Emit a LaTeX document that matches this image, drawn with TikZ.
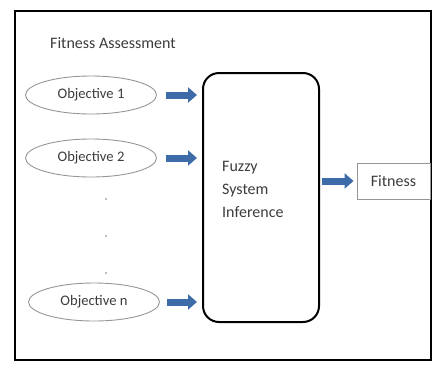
\documentclass[tikz,border=0pt]{standalone}
\usepackage{fontspec}
\setmainfont{Carlito}
\usetikzlibrary{shapes.geometric,arrows.meta}
\definecolor{arrowblue}{RGB}{62,108,168}
\definecolor{txt}{RGB}{60,60,60}
\definecolor{edgegray}{RGB}{150,150,150}
\tikzset{
  objective/.style={ellipse, draw=edgegray, line width=0.9pt, minimum width=131pt, minimum height=38pt, inner sep=0pt, text=txt, font=\fontsize{14.6}{17}\selectfont},
  blockarrow/.style={draw=arrowblue, line width=7pt, -{Triangle[length=9pt,width=15pt]}},
  dotmark/.style={circle, fill=gray!70, inner sep=0pt, minimum size=2.2pt},
  lbl/.style={text=txt, font=\fontsize{16}{23}\selectfont, inner sep=0pt}
}
\begin{document}
\begin{tikzpicture}[x=1pt,y=-1pt]
\useasboundingbox (0,0) rectangle (435,367);
\draw[line width=2.2pt] (15,11) rectangle (431,360);
\node[lbl, anchor=west] (title) at (50,43) {Fitness Assessment};
\node[objective] (o1) at (91,95) {Objective 1};
\node[objective] (o2) at (91,158) {Objective 2};
\node[objective] (on) at (94,302) {Objective n};
\node[dotmark] (d1) at (106,199) {};
\node[dotmark] (d2) at (106,236) {};
\node[dotmark] (d3) at (106,273) {};
\node[draw, line width=2pt, rounded corners=16pt, minimum width=116pt, minimum height=249pt, inner sep=0pt] (fis) at (261,197.5) {};
\node[lbl, align=left, anchor=west] (fistext) at (222,189) {Fuzzy\\System\\Inference};
\node[draw=edgegray, line width=0.9pt, minimum width=73pt, minimum height=36pt, inner sep=0pt, lbl] (fit) at (393.5,181) {Fitness};
\draw[blockarrow] ([xshift=9pt]o1.east) -- ([xshift=-5pt]fis.west |- o1.east);
\draw[blockarrow] ([xshift=9pt]o2.east) -- ([xshift=-5pt]fis.west |- o2.east);
\draw[blockarrow] ([xshift=7pt]on.east) -- ([xshift=-5pt]fis.west |- on.east);
\coordinate (fo) at (fis.east |- fit.west);
\draw[blockarrow] ([xshift=2pt]fo) -- ([xshift=-3pt]fit.west);
\end{tikzpicture}
\end{document}
